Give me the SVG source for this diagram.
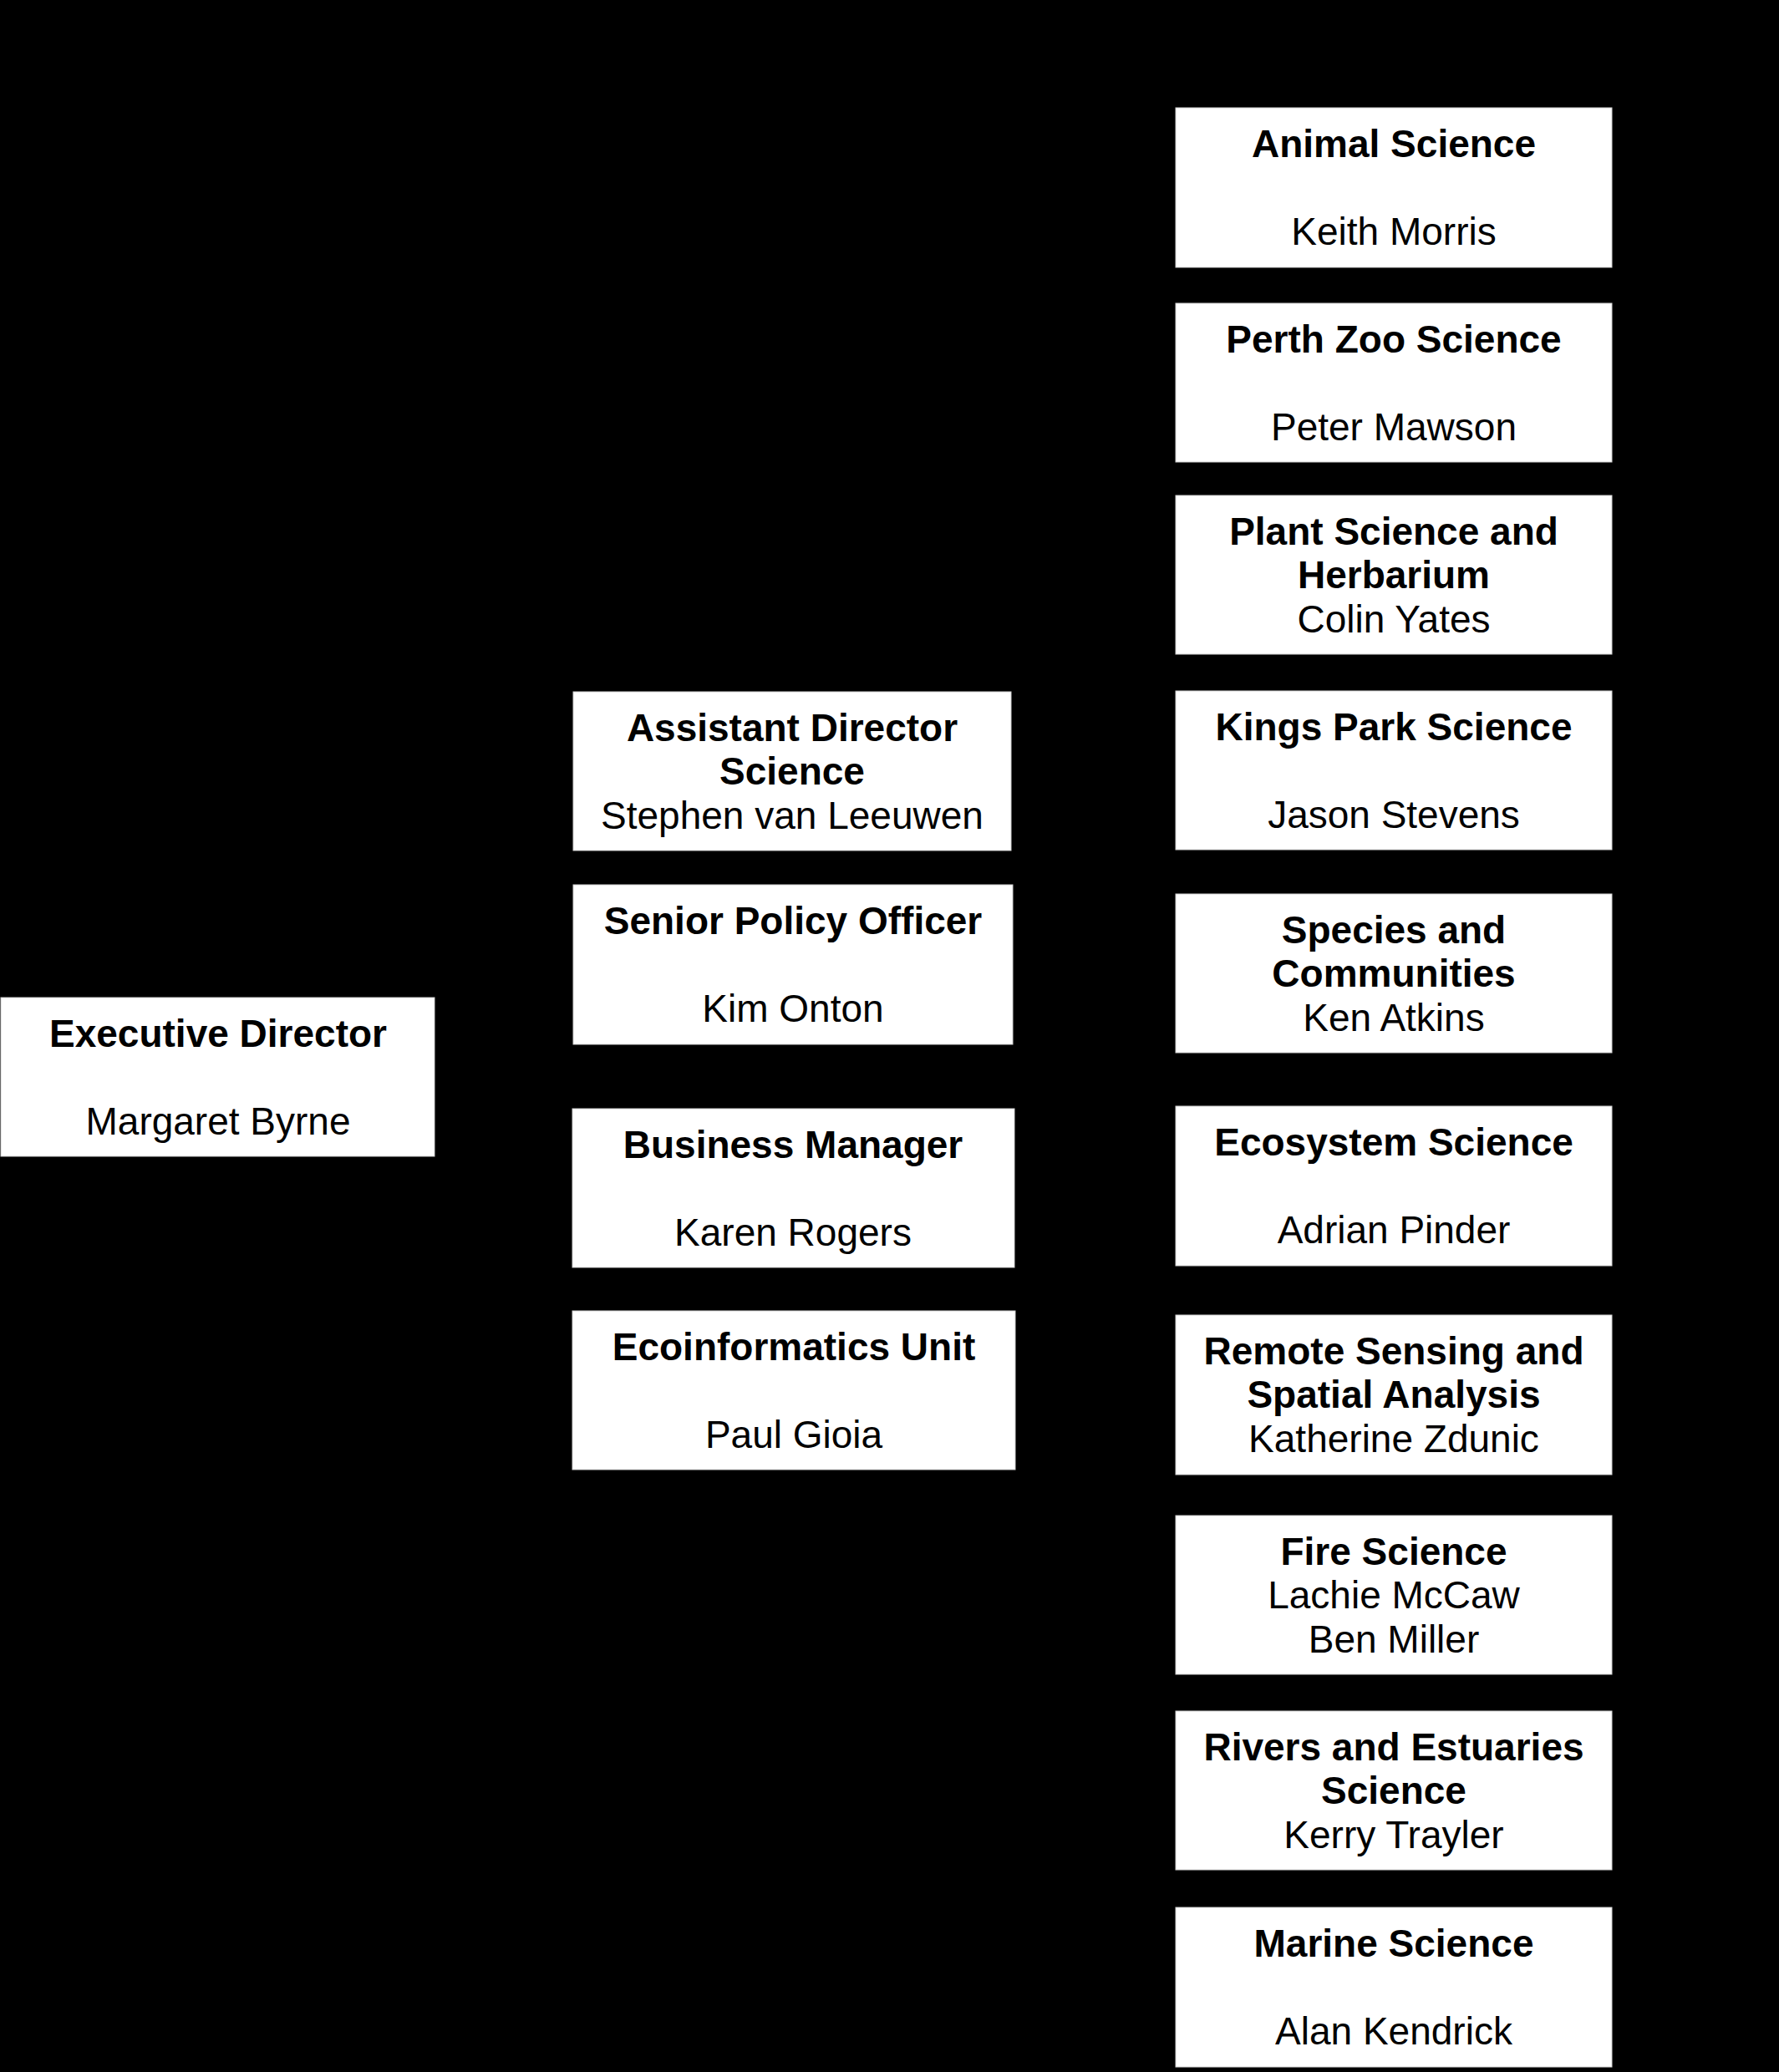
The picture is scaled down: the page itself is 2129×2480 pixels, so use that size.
<svg xmlns="http://www.w3.org/2000/svg" width="2129" height="2480" viewBox="0 0 2129 2480">
<style>
.box{fill:#ffffff;stroke:#d0d0d0;stroke-width:1}
text{font-family:"Liberation Sans",Arial,Helvetica,sans-serif;font-size:46px;fill:#000;text-anchor:middle}
.t{font-weight:bold}
</style>
<rect x="0" y="0" width="2129" height="2480" fill="#000000"/>
<g id="connectors"></g>
<g id="exec">
<rect class="box" x="1" y="1194" width="519" height="190"/>
<text class="t" x="261" y="1253">Executive Director</text>
<text x="261" y="1358">Margaret Byrne</text>
</g>
<g id="asst-director">
<rect class="box" x="686" y="828" width="524" height="190"/>
<text class="t" x="948" y="887">Assistant Director</text>
<text class="t" x="948" y="939">Science</text>
<text x="948" y="992">Stephen van Leeuwen</text>
</g>
<g id="senior-policy">
<rect class="box" x="686" y="1059" width="526" height="191"/>
<text class="t" x="949" y="1118">Senior Policy Officer</text>
<text x="949" y="1223">Kim Onton</text>
</g>
<g id="business-manager">
<rect class="box" x="685" y="1327" width="529" height="190"/>
<text class="t" x="949" y="1386">Business Manager</text>
<text x="949" y="1491">Karen Rogers</text>
</g>
<g id="ecoinformatics">
<rect class="box" x="685" y="1569" width="530" height="190"/>
<text class="t" x="950" y="1628">Ecoinformatics Unit</text>
<text x="950" y="1733">Paul Gioia</text>
</g>
<g id="animal-science">
<rect class="box" x="1407" y="129" width="522" height="191"/>
<text class="t" x="1668" y="188">Animal Science</text>
<text x="1668" y="293">Keith Morris</text>
</g>
<g id="perth-zoo">
<rect class="box" x="1407" y="363" width="522" height="190"/>
<text class="t" x="1668" y="422">Perth Zoo Science</text>
<text x="1668" y="527">Peter Mawson</text>
</g>
<g id="plant-science">
<rect class="box" x="1407" y="593" width="522" height="190"/>
<text class="t" x="1668" y="652">Plant Science and</text>
<text class="t" x="1668" y="704">Herbarium</text>
<text x="1668" y="757">Colin Yates</text>
</g>
<g id="kings-park">
<rect class="box" x="1407" y="827" width="522" height="190"/>
<text class="t" x="1668" y="886">Kings Park Science</text>
<text x="1668" y="991">Jason Stevens</text>
</g>
<g id="species-communities">
<rect class="box" x="1407" y="1070" width="522" height="190"/>
<text class="t" x="1668" y="1129">Species and</text>
<text class="t" x="1668" y="1181">Communities</text>
<text x="1668" y="1234">Ken Atkins</text>
</g>
<g id="ecosystem-science">
<rect class="box" x="1407" y="1324" width="522" height="191"/>
<text class="t" x="1668" y="1383">Ecosystem Science</text>
<text x="1668" y="1488">Adrian Pinder</text>
</g>
<g id="remote-sensing">
<rect class="box" x="1407" y="1574" width="522" height="191"/>
<text class="t" x="1668" y="1633">Remote Sensing and</text>
<text class="t" x="1668" y="1685">Spatial Analysis</text>
<text x="1668" y="1738">Katherine Zdunic</text>
</g>
<g id="fire-science">
<rect class="box" x="1407" y="1814" width="522" height="190"/>
<text class="t" x="1668" y="1873">Fire Science</text>
<text x="1668" y="1925">Lachie McCaw</text>
<text x="1668" y="1978">Ben Miller</text>
</g>
<g id="rivers-estuaries">
<rect class="box" x="1407" y="2048" width="522" height="190"/>
<text class="t" x="1668" y="2107">Rivers and Estuaries</text>
<text class="t" x="1668" y="2159">Science</text>
<text x="1668" y="2212">Kerry Trayler</text>
</g>
<g id="marine-science">
<rect class="box" x="1407" y="2283" width="522" height="191"/>
<text class="t" x="1668" y="2342">Marine Science</text>
<text x="1668" y="2447">Alan Kendrick</text>
</g>
</svg>
